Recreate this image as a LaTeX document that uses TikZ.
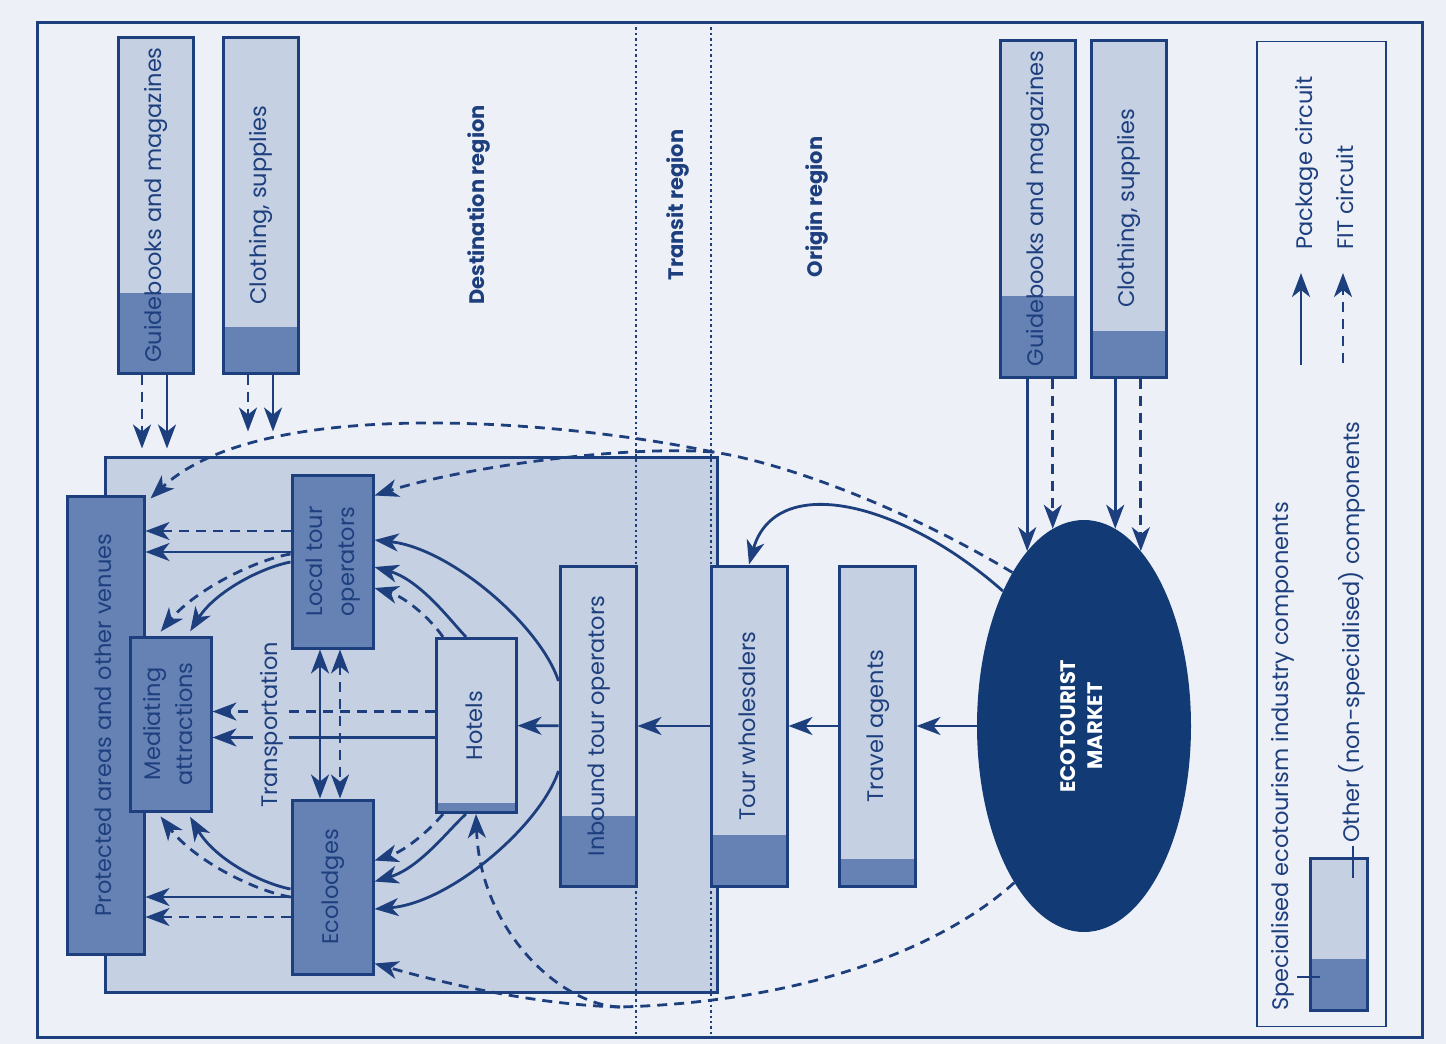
\documentclass[tikz,border=0pt]{standalone}
\usepackage{fontspec}
\setmainfont{Poppins}
\usepackage{graphicx}
\usetikzlibrary{arrows.meta,shapes.geometric}
\definecolor{navy}{HTML}{1D3F7E}
\definecolor{ink}{HTML}{123A75}
\definecolor{lite}{HTML}{C6D0E3}
\definecolor{dark}{HTML}{6682B5}
\definecolor{paper}{HTML}{EDF0F6}
\newcommand{\vt}[1]{\rotatebox{90}{\begin{tabular}{@{}c@{}}#1\end{tabular}}}
\tikzset{
  >={Stealth[length=24pt,width=18pt,inset=7pt]},
  box/.style={draw=navy, line width=3pt, fill=lite, inner sep=0pt, text=navy},
  full/.style={box, fill=dark},
  part/.style={path picture={\fill[dark] (path picture bounding box.south west) rectangle ([yshift=#1]path picture bounding box.south east);}},
  sz/.style 2 args={minimum width=#1, minimum height=#2},
  pkg/.style={navy, line width=2.8pt, ->},
  fitc/.style={pkg, dash pattern=on 10pt off 7pt},
  region/.style={text=navy, font=\bfseries\fontsize{21}{25}\selectfont},
}
\begin{document}
\begin{tikzpicture}[x=1pt,y=-1pt,font=\fontsize{22.5}{32}\selectfont]
\useasboundingbox (0,0) rectangle (1446,1044);
\fill[paper] (0,0) rectangle (1446,1044);
\draw[navy, line width=3pt] (37,22) rectangle (1422,1037);
% regions
\node[box, sz={612pt}{535pt}] (dreg) at (411,724.5) {};
\foreach \x in {636,711}
  \draw[navy, line width=2.4pt, dash pattern=on 2.4pt off 3pt] (\x,22) -- (\x,1037);
\node[region] (dlab) at (479,205) {\vt{Destination region}};
\node[region] (tlab) at (678,205) {\vt{Transit region}};
\node[region] (olab) at (817,207) {\vt{Origin region}};
% supplies
\node[box, part=80pt, sz={75pt}{336pt}] (gbd) at (155.5,205) {\vt{Guidebooks and magazines}};
\node[box, part=46pt, sz={75pt}{336pt}] (csd) at (260.5,205) {\vt{Clothing, supplies}};
\node[box, part=81pt, sz={75pt}{337pt}] (gbo) at (1037.5,208.5) {\vt{Guidebooks and magazines}};
\node[box, part=46pt, sz={75pt}{337pt}] (cso) at (1128.5,208.5) {\vt{Clothing, supplies}};
% destination components
\node[full, sz={77pt}{458pt}] (pav) at (105.5,725) {\vt{Protected areas and other venues}};
\node[full, sz={81pt}{174pt}] (med) at (170.5,724) {\vt{Mediating\\attractions}};
\node[full, sz={81pt}{173pt}] (lto) at (332.5,561.5) {\vt{Local tour\\operators}};
\node[full, sz={81pt}{174pt}] (eco) at (332.5,887) {\vt{Ecolodges}};
\node[box, part=10pt, sz={80pt}{174pt}] (hot) at (476,725.5) {\vt{Hotels}};
\node[box, part=70pt, sz={76pt}{320pt}] (ito) at (598,726) {\vt{Inbound tour operators}};
\node[box, part=51pt, sz={76pt}{320pt}] (tws) at (749,726) {\vt{Tour wholesalers}};
\node[box, part=27pt, sz={76pt}{320pt}] (tag) at (877,726) {\vt{Travel agents}};
\node[ellipse, fill=ink, inner sep=0pt, sz={214pt}{412pt}, text=white,
  font=\bfseries\fontsize{21}{27}\selectfont] (mkt) at (1084,726) {\vt{ECOTOURIST\\MARKET}};
% legend
\node[draw=navy, line width=1.6pt, sz={129pt}{985pt}] (leg) at (1321.5,534) {};
\node[box, part=51pt, sz={57pt}{152pt}] (swt) at (1338.5,934) {};
\node[anchor=south, inner sep=0pt, text=navy] (pkt) at (1306,250) {\vt{Package circuit}};
\node[anchor=south, inner sep=0pt, text=navy] (ftt) at (1347,250) {\vt{FIT circuit}};
\node[anchor=south, inner sep=0pt, text=navy] (spc) at (1282,1011) {\vt{Specialised ecotourism industry components}};
\node[anchor=south, inner sep=0pt, text=navy] (oth) at (1353,843) {\vt{Other (non-specialised) components}};
\coordinate (pk0) at (1301,365);
\coordinate (ft0) at (1343,363);
\coordinate (sl) at (1297,977);
\draw[pkg, shorten >=23pt] (pk0) -- (pk0 |- pkt.south);
\draw[fitc, shorten >=23pt] (ft0) -- (ft0 |- ftt.south);
\draw[navy, line width=1.6pt] (sl) -- ++(23,0);
\draw[navy, line width=1.6pt] ([yshift=-3pt]oth.south) -- ++(0,32);
% supplies into the two regions
\draw[fitc] ([xshift=-13.5pt]gbd.south) -- ++(0,74);
\draw[pkg] ([xshift=11.5pt]gbd.south) -- ++(0,74);
\draw[fitc] ([xshift=-12.5pt]csd.south) -- ++(0,57);
\draw[pkg] ([xshift=12.5pt]csd.south) -- ++(0,57);
\draw[pkg] (mkt.108 |- gbo.south) -- (mkt.108);
\draw[fitc] (mkt.99 |- gbo.south) -- (mkt.99);
\draw[pkg] (mkt.81 |- cso.south) -- (mkt.81);
\draw[fitc] (mkt.72 |- cso.south) -- (mkt.72);
% package chain
\draw[pkg] (mkt) -- (tag);
\draw[pkg] (tag) -- (tws);
\draw[pkg] (tws) -- (ito);
\draw[pkg] (ito) -- (hot);
\draw[pkg] (mkt.121) .. controls (900,500) and (775,472) .. (tws.north);
% inside the destination
\draw[fitc] ([yshift=30.5pt]lto.west) -- ([yshift=30.5pt]lto.west -| pav.east);
\draw[pkg] ([yshift=9.5pt]lto.west) -- ([yshift=9.5pt]lto.west -| pav.east);
\draw[pkg] ([yshift=-10pt]eco.west) -- ([yshift=-10pt]eco.west -| pav.east);
\draw[fitc] ([yshift=-30pt]eco.west) -- ([yshift=-30pt]eco.west -| pav.east);
\draw[fitc] ([yshift=14pt]hot.west) -- ([yshift=14pt]hot.west -| med.east);
\draw[pkg] ([yshift=-12pt]hot.west) -- ([yshift=-12pt]hot.west -| med.east);
\node[fill=lite, inner sep=2pt, text=navy] (trn) at (271,725) {\vt{Transportation}};
\draw[pkg, <->] ([xshift=-12.5pt]lto.south) -- ([xshift=-12.5pt]eco.north);
\draw[fitc, <->] ([xshift=7.5pt]lto.south) -- ([xshift=7.5pt]eco.north);
\draw[fitc, shorten >=5pt] ([yshift=7.5pt]lto.west) .. controls (255,560) and (195,590) .. ([xshift=-13pt]med.north);
\draw[pkg, shorten >=5pt] ([yshift=-0.5pt]lto.west) .. controls (260,568) and (215,592) .. ([xshift=17pt]med.north);
\draw[fitc, shorten >=5pt] ([yshift=-10pt]eco.west) .. controls (255,891) and (195,861) .. ([xshift=-13pt]med.south);
\draw[pkg, shorten >=5pt] ([yshift=-2pt]eco.west) .. controls (260,883) and (215,859) .. ([xshift=17pt]med.south);
\draw[pkg] ([xshift=-10pt]hot.north) .. controls (450,620) and (420,580) .. ([yshift=-5.5pt]lto.east);
\draw[fitc] ([xshift=-33pt]hot.north) .. controls (430,618) and (405,597) .. ([yshift=-26.5pt]lto.east);
\draw[pkg] ([xshift=-10pt]hot.south) .. controls (450,828) and (420,868) .. ([yshift=5.5pt]eco.east);
\draw[fitc] ([xshift=-33pt]hot.south) .. controls (430,830) and (405,851) .. ([yshift=26.5pt]eco.east);
\draw[pkg] ([yshift=45pt]ito.west) .. controls (540,625) and (450,548) .. ([yshift=21.5pt]lto.east);
\draw[pkg] ([yshift=-45pt]ito.west) .. controls (540,826) and (450,903) .. ([yshift=-22pt]eco.east);
% independent travellers
\coordinate (up) at (713,452);
\coordinate (dn) at (620,1007);
\draw[fitc, -] (mkt.115) .. controls (900,505) and (780,462) .. (up);
\draw[fitc] (up) .. controls (560,420) and (260,395) .. ([xshift=5pt,yshift=-4pt]pav.north east);
\draw[fitc] (up) .. controls (620,445) and (460,468) .. ([yshift=-22pt]lto.north east);
\draw[fitc, -] (mkt.246) .. controls (940,950) and (800,1002) .. (dn);
\draw[fitc] (dn) .. controls (540,1005) and (450,985) .. ([yshift=12pt]eco.south east);
\draw[fitc] (dn) .. controls (560,1005) and (480,930) .. (hot.south);
\end{tikzpicture}
\end{document}
